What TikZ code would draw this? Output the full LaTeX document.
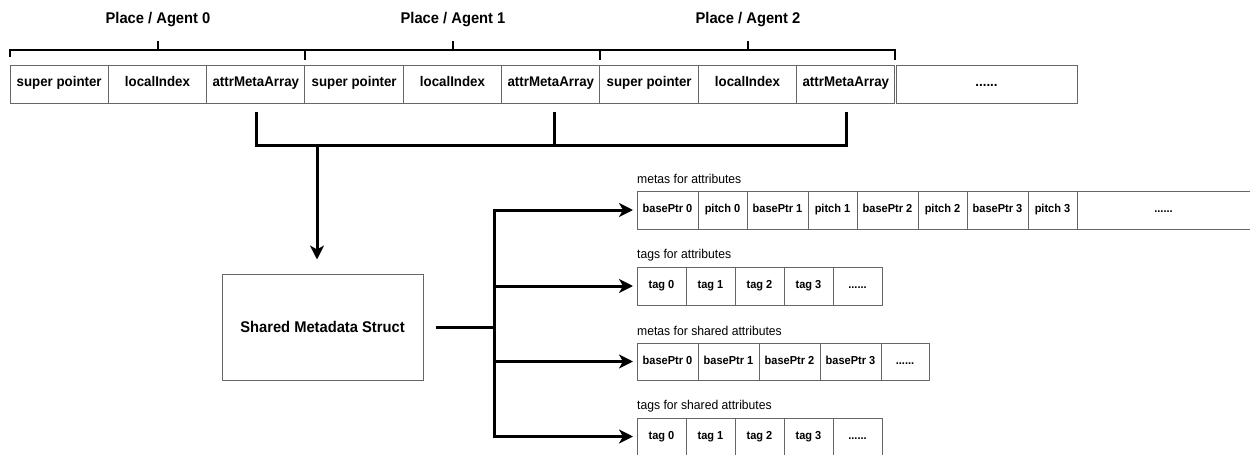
\documentclass[tikz,border=0pt]{standalone}
\usepackage{fontspec}
\setmainfont{Liberation Sans}[FakeStretch=0.95]
\usetikzlibrary{arrows.meta,calc}
\begin{document}
\begin{tikzpicture}[x=1pt,y=-1pt,
  cell/.style={draw=black!60, line width=1pt, minimum height=38pt, inner sep=0pt, outer sep=0pt, text height=0.72em, text depth=0.2em, font=\fontsize{14}{16}\selectfont\bfseries},
  rcell/.style={cell, anchor=north west, font=\fontsize{11.6}{13}\selectfont\bfseries},
  title/.style={font=\fontsize{15.5}{17}\selectfont\bfseries, inner sep=0pt},
  lbl/.style={font=\fontsize{12.8}{14}\selectfont, inner sep=0pt, anchor=west},
  brace/.style={line width=2pt},
  tick/.style={line width=1.5pt},
  conn/.style={line width=3pt},
  arr/.style={line width=3pt, -{Stealth[length=14pt,width=14pt,inset=4pt]}},
]
\useasboundingbox (0,0) rectangle (1250,455);

% top row
\foreach \t [count=\i from 0] in {super pointer,localIndex,attrMetaArray,super pointer,localIndex,attrMetaArray,super pointer,localIndex,attrMetaArray}
  \node[cell, minimum width=98.33pt] (c\i) at ({10+98.33*\i+49.17}, 84) {\t};
\node[cell, minimum width=181pt] (more) at (986.5,84) {......};

% titles
\node[title] (t0) at (158,20) {Place / Agent 0};
\node[title] (t1) at (453,20) {Place / Agent 1};
\node[title] (t2) at (748,20) {Place / Agent 2};

% braces
\draw[brace] (10,57) -- (10,50) -- (895,50) -- (895,60);
\draw[tick] (305,50) -- (305,60);
\draw[tick] (600,50) -- (600,60);
\draw[tick] (158,41) -- (158,50);
\draw[tick] (453,41) -- (453,50);
\draw[tick] (748,41) -- (748,50);

% lower collector
\coordinate (k2) at ([xshift=1pt]c2.south);
\coordinate (k5) at ([xshift=4pt]c5.south);
\coordinate (k8) at ([xshift=0.5pt]c8.south);
\draw[conn] (k2 |- 0,112) -- (k2 |- 0,145) -- (k8 |- 0,145) -- (k8 |- 0,112);
\draw[conn] (k5 |- 0,112) -- (k5 |- 0,145);
\coordinate (j) at (317,145);

% shared metadata struct
\node[draw=black!60, line width=1pt, minimum width=201pt, minimum height=106pt, font=\fontsize{15.5}{17}\selectfont\bfseries] (sms) at (322.5,327) {Shared Metadata Struct};
\draw[arr, shorten >=14pt] (j) -- (j |- sms.north);

% right arrays
\node[rcell, minimum width=61pt] (m0) at (637,191) {basePtr 0};
\node[rcell, minimum width=49pt] (m1) at (m0.north east) {pitch 0};
\node[rcell, minimum width=61pt] (m2) at (m1.north east) {basePtr 1};
\node[rcell, minimum width=49pt] (m3) at (m2.north east) {pitch 1};
\node[rcell, minimum width=61pt] (m4) at (m3.north east) {basePtr 2};
\node[rcell, minimum width=49pt] (m5) at (m4.north east) {pitch 2};
\node[rcell, minimum width=61pt] (m6) at (m5.north east) {basePtr 3};
\node[rcell, minimum width=49pt] (m7) at (m6.north east) {pitch 3};
\node[rcell, minimum width=173pt] (m8) at (m7.north east) {......};
\node[lbl] (lm) at ([yshift=12pt]m0.north west) {metas for attributes};

\node[rcell, minimum width=49pt] (ta0) at (637,267) {tag 0};
\node[rcell, minimum width=49pt] (ta1) at (ta0.north east) {tag 1};
\node[rcell, minimum width=49pt] (ta2) at (ta1.north east) {tag 2};
\node[rcell, minimum width=49pt] (ta3) at (ta2.north east) {tag 3};
\node[rcell, minimum width=49pt] (ta4) at (ta3.north east) {......};
\node[lbl] (lta) at ([yshift=12pt]ta0.north west) {tags for attributes};

\node[rcell, minimum width=61pt, minimum height=37pt] (s0) at (637,343) {basePtr 0};
\node[rcell, minimum width=61pt, minimum height=37pt] (s1) at (s0.north east) {basePtr 1};
\node[rcell, minimum width=61pt, minimum height=37pt] (s2) at (s1.north east) {basePtr 2};
\node[rcell, minimum width=61pt, minimum height=37pt] (s3) at (s2.north east) {basePtr 3};
\node[rcell, minimum width=48pt, minimum height=37pt] (s4) at (s3.north east) {......};
\node[lbl] (ls) at ([yshift=12pt]s0.north west) {metas for shared attributes};

\node[rcell, minimum width=49pt, minimum height=37pt] (tb0) at (637,418) {tag 0};
\node[rcell, minimum width=49pt, minimum height=37pt] (tb1) at (tb0.north east) {tag 1};
\node[rcell, minimum width=49pt, minimum height=37pt] (tb2) at (tb1.north east) {tag 2};
\node[rcell, minimum width=49pt, minimum height=37pt] (tb3) at (tb2.north east) {tag 3};
\node[rcell, minimum width=49pt, minimum height=37pt] (tb4) at (tb3.north east) {......};
\node[lbl] (ltb) at ([yshift=12pt]tb0.north west) {tags for shared attributes};

% branching connectors
\coordinate (b) at (494,327);
\draw[conn] ([xshift=12pt]sms.east) -- (b);
\draw[conn, line cap=rect] (b |- m0.west) -- (b |- tb0.west);
\foreach \r in {m0,ta0,s0,tb0}
  \draw[arr, shorten >=4pt] (b |- \r.west) -- (\r.west);
\end{tikzpicture}
\end{document}
